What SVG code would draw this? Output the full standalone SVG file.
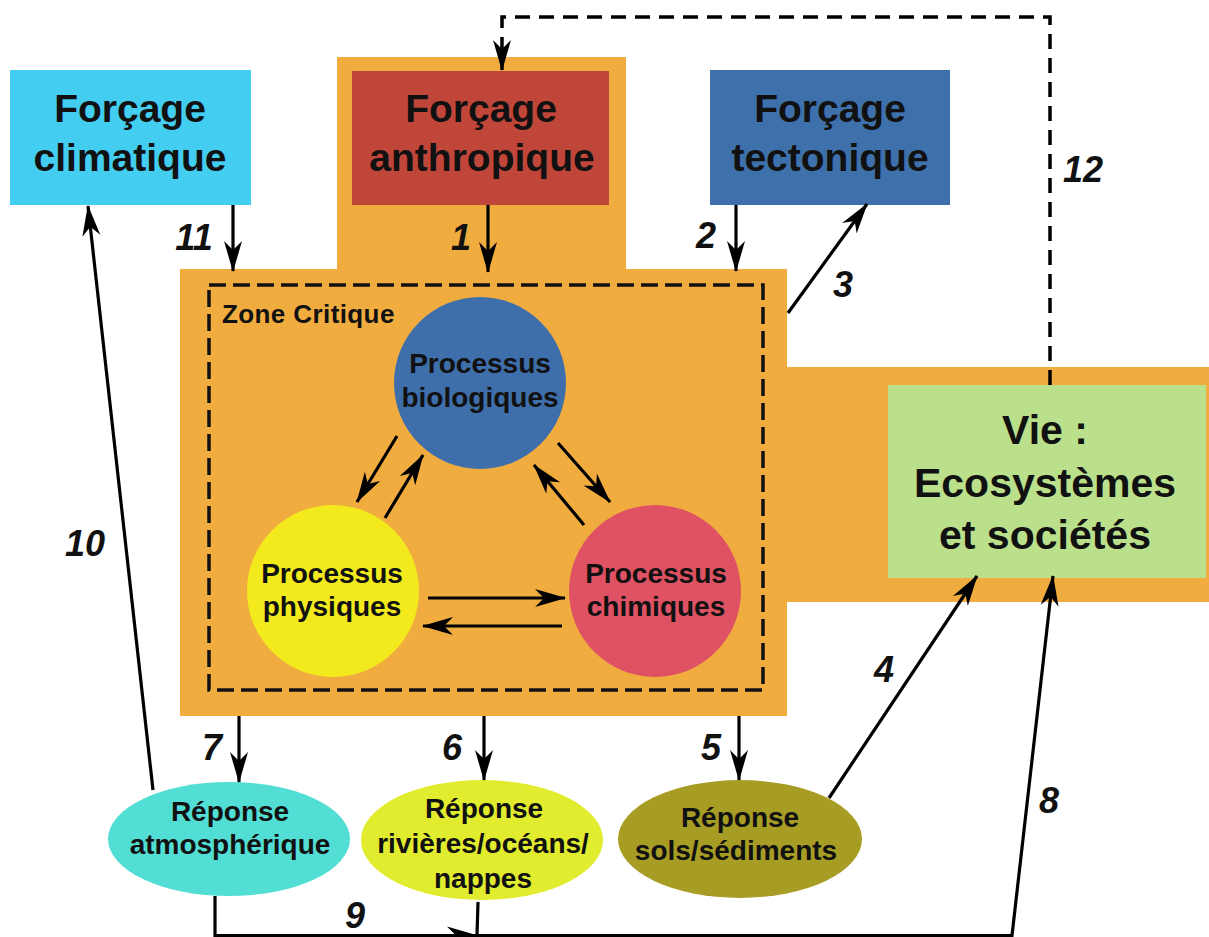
<svg xmlns="http://www.w3.org/2000/svg" width="1209" height="937" viewBox="0 0 1209 937">
<defs>
<style>
text{font-family:"Liberation Sans",Arial,sans-serif;font-weight:bold;fill:#111;text-anchor:middle}
.big{font-size:39px}
.vie{font-size:41px}
.mid{font-size:28px}
.num{font-size:36px;font-style:italic}
.zc{font-size:26px;text-anchor:start;letter-spacing:0.4px}
.ln{fill:none;stroke:#000;stroke-width:3.2}
.dash{fill:none;stroke:#000;stroke-width:3.5;stroke-dasharray:15 9}
</style>
<marker id="ah" viewBox="0 -10 32 20" refX="30" refY="0" markerUnits="userSpaceOnUse" markerWidth="32" markerHeight="20" orient="auto">
<path d="M0,-9 L31,0 L0,9 L9,0 Z" fill="#000"/>
</marker>
</defs>
<rect width="1209" height="937" fill="#fff"/>
<g id="zone-fond">
<path d="M337,57 H626 V269 H787 V367 H1209 V602 H787 V716 H180 V269 H337 Z" fill="#f1ac40"/>
</g>
<g id="zone-critique">
<rect x="209" y="285" width="554" height="405" fill="none" stroke="#111" stroke-width="3.5" stroke-dasharray="17 7"/>
<text class="zc" x="222" y="323">Zone Critique</text>
</g>
<g id="forcage-climatique">
<rect x="10" y="70" width="241" height="135" fill="#42cdf1"/>
<text class="big" x="130" y="122">Forçage</text>
<text class="big" x="130" y="171">climatique</text>
</g>
<g id="forcage-anthropique">
<rect x="352" y="71" width="257" height="134" fill="#c1463a"/>
<text class="big" x="481" y="122">Forçage</text>
<text class="big" x="482" y="171">anthropique</text>
</g>
<g id="forcage-tectonique">
<rect x="710" y="70" width="240" height="135" fill="#3e70ab"/>
<text class="big" x="830" y="122">Forçage</text>
<text class="big" x="830" y="171">tectonique</text>
</g>
<g id="vie">
<rect x="888" y="385" width="318" height="193" fill="#bbe08c"/>
<text class="vie" x="1045" y="444">Vie :</text>
<text class="vie" x="1045" y="497">Ecosystèmes</text>
<text class="vie" x="1045" y="549">et sociétés</text>
</g>
<g id="processus-biologiques">
<circle cx="480" cy="383" r="86" fill="#3f6fab"/>
<text class="mid" x="480" y="373">Processus</text>
<text class="mid" x="480" y="407">biologiques</text>
</g>
<g id="processus-physiques">
<circle cx="333" cy="591" r="86" fill="#f2ea1d"/>
<text class="mid" x="332" y="583">Processus</text>
<text class="mid" x="332" y="616">physiques</text>
</g>
<g id="processus-chimiques">
<circle cx="655" cy="591" r="86" fill="#de5263"/>
<text class="mid" x="656" y="583">Processus</text>
<text class="mid" x="656" y="616">chimiques</text>
</g>
<g id="reponse-atmospherique">
<ellipse cx="229" cy="839" rx="121" ry="57" fill="#52ded4"/>
<text class="mid" x="230" y="821">Réponse</text>
<text class="mid" x="230" y="854">atmosphérique</text>
</g>
<g id="reponse-rivieres">
<ellipse cx="482" cy="840" rx="121" ry="60" fill="#e2ec2e"/>
<text class="mid" x="484" y="818">Réponse</text>
<text class="mid" x="483" y="853">rivières/océans/</text>
<text class="mid" x="483" y="888">nappes</text>
</g>
<g id="reponse-sols">
<ellipse cx="740" cy="839" rx="122" ry="59" fill="#a89d24"/>
<text class="mid" x="740" y="827">Réponse</text>
<text class="mid" x="736" y="860">sols/sédiments</text>
</g>
<g id="connecteurs">
<path class="ln" d="M397,436 L357,502" marker-end="url(#ah)"/>
<path class="ln" d="M385,518 L423,455" marker-end="url(#ah)"/>
<path class="ln" d="M558,443 L610,502" marker-end="url(#ah)"/>
<path class="ln" d="M584,525 L534,465" marker-end="url(#ah)"/>
<path class="ln" d="M428,598 L565,598" marker-end="url(#ah)"/>
<path class="ln" d="M562,626 L423,626" marker-end="url(#ah)"/>
<path class="ln" d="M233,205 V271" marker-end="url(#ah)"/>
<path class="ln" d="M488,205 V272" marker-end="url(#ah)"/>
<path class="ln" d="M736,205 V271" marker-end="url(#ah)"/>
<path class="ln" d="M788,313 L867,204" marker-end="url(#ah)"/>
<path class="dash" d="M1050,385 V17 H502 V70" marker-end="url(#ah)"/>
<path class="ln" d="M239,716 V782" marker-end="url(#ah)"/>
<path class="ln" d="M484,716 V780" marker-end="url(#ah)"/>
<path class="ln" d="M739,716 V780" marker-end="url(#ah)"/>
<path class="ln" d="M829,798 L977,576" marker-end="url(#ah)"/>
<path class="ln" d="M153,790 L88,206" marker-end="url(#ah)"/>
<path class="ln" d="M215,896 V935.5 H477" marker-end="url(#ah)"/>
<path class="ln" d="M478,902 L477,935.5 H1012 L1053,576" marker-end="url(#ah)"/>
<text class="num" x="194" y="250">11</text>
<text class="num" x="461" y="250">1</text>
<text class="num" x="706" y="248">2</text>
<text class="num" x="843" y="297">3</text>
<text class="num" x="884" y="682">4</text>
<text class="num" x="711" y="760">5</text>
<text class="num" x="452" y="760">6</text>
<text class="num" x="212" y="760">7</text>
<text class="num" x="1049" y="813">8</text>
<text class="num" x="355" y="928">9</text>
<text class="num" x="85" y="556">10</text>
<text class="num" x="1083" y="182">12</text>
</g>
</svg>
